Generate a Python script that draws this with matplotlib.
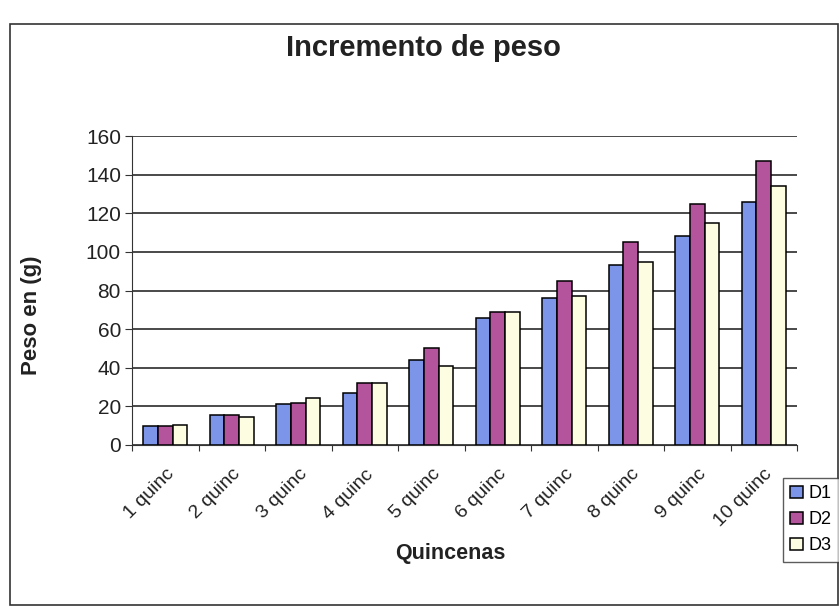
import numpy as np
import matplotlib
matplotlib.use('Agg')
from matplotlib import pyplot as plt
from matplotlib.patches import Rectangle
from matplotlib.transforms import ScaledTranslation

plt.rcParams['font.family'] = ['Liberation Sans', 'DejaVu Sans']

# data
categories = ['1 quinc', '2 quinc', '3 quinc', '4 quinc', '5 quinc',
              '6 quinc', '7 quinc', '8 quinc', '9 quinc', '10 quinc']
d1 = [10, 15.5, 21, 27, 44, 66, 76, 93, 108, 126]
d2 = [10, 15.5, 22, 32, 50, 69, 85, 105, 125, 147]
d3 = [10.5, 14.5, 24.5, 32, 41, 69, 77, 95, 115, 134]
series_names = ['D1', 'D2', 'D3']
colors = ['#7c95e8', '#b4549c', '#fdfde2']

fig = plt.figure(figsize=(8.39, 6.15), dpi=100)
W, H = 839, 615

# outer chart border
fig.patches.append(Rectangle((10 / W, 1 - 605 / H), 828 / W, 581 / H,
                             transform=fig.transFigure, fill=False,
                             edgecolor='#333333', linewidth=1.2))

ax = fig.add_axes([132 / W, 1 - 445 / H, 665 / W, 309 / H])

x = np.arange(len(categories))
w = 1 / 4.5
for i, (vals, name) in enumerate(zip([d1, d2, d3], series_names)):
    ax.bar(x + (i - 1) * w, vals, width=w, color=colors[i], edgecolor='black',
           linewidth=1.1, label=name, zorder=3)

ax.set_xlim(-0.5, len(categories) - 0.5)
ax.set_ylim(0, 160)
ax.set_yticks(range(0, 161, 20))
ax.yaxis.grid(True, color='#2a2a2a', linewidth=1.2, zorder=0)
ax.set_axisbelow(True)

for s in ['top', 'right']:
    ax.spines[s].set_visible(False)
ax.spines['left'].set_color('#333333')
ax.spines['bottom'].set_color('#333333')

# category ticks between groups, labels at group centres
ax.set_xticks(np.arange(-0.5, len(categories), 1))
ax.set_xticklabels([])
ax.set_xticks(x, minor=True)
ax.set_xticklabels(categories, minor=True, rotation=45, ha='right',
                   rotation_mode='anchor', fontsize=14, color='#222222')
shift = ScaledTranslation(-8 / 100, 0, fig.dpi_scale_trans)
for lab in ax.get_xticklabels(minor=True):
    lab.set_transform(lab.get_transform() + shift)
ax.tick_params(axis='x', which='minor', length=0, pad=15)
ax.tick_params(axis='x', which='major', length=4, color='#333333')
ax.tick_params(axis='y', labelsize=15, length=5, color='#333333', pad=3,
               labelcolor='#222222')

fig.text(423 / W, 1 - 48 / H, 'Incremento de peso', ha='center', va='center',
         fontsize=21, fontweight='bold', color='#222222')
fig.text(32 / W, 1 - 315 / H, 'Peso en (g)', rotation=90, ha='center',
         va='center', fontsize=16, fontweight='bold', color='#222222')
fig.text(450 / W, 1 - 553 / H, 'Quincenas', ha='center', va='center',
         fontsize=15.5, fontweight='bold', color='#222222')

leg = fig.legend(loc='upper left', bbox_to_anchor=(783 / W, 1 - 478 / H),
                 fontsize=13, frameon=True, fancybox=False, handlelength=0.7,
                 handleheight=0.7, handletextpad=0.3, borderpad=0.4,
                 labelspacing=0.5, borderaxespad=0)
leg.get_frame().set_edgecolor('#333333')
leg.get_frame().set_linewidth(1.0)

fig.savefig('out.png', dpi=100)
